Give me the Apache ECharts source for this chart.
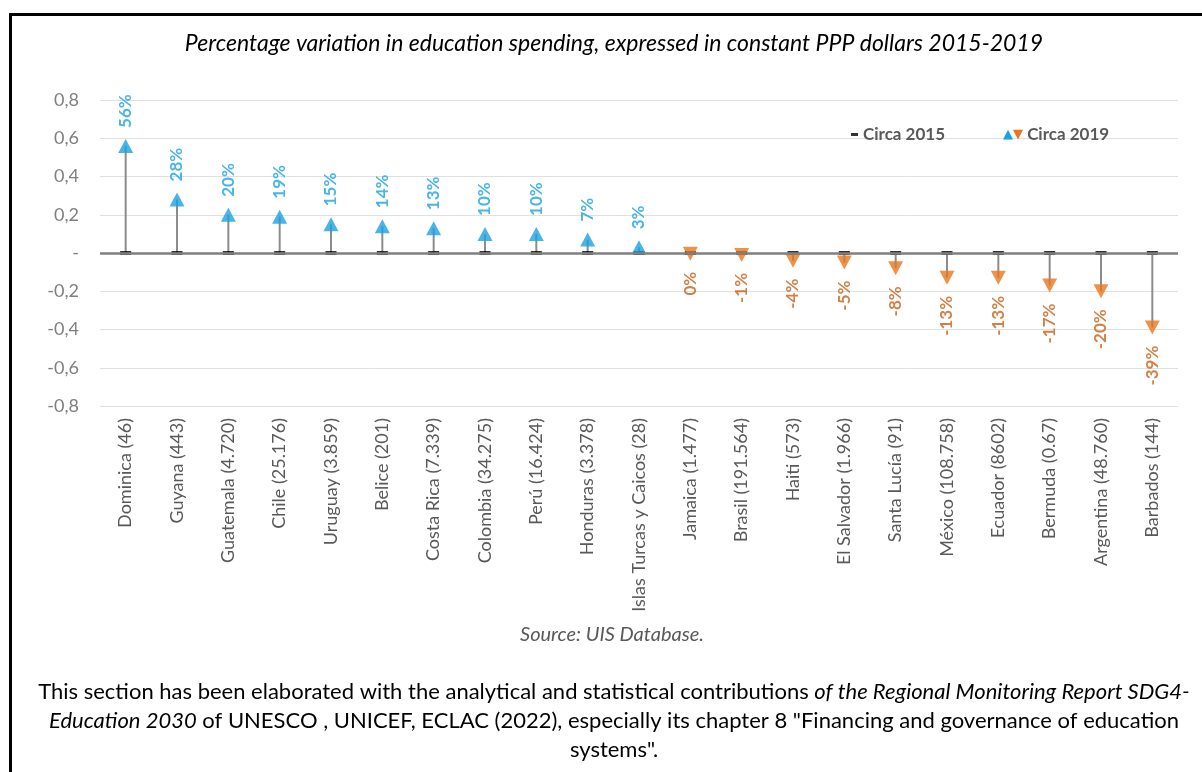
<!DOCTYPE html>
<html>
<head>
<meta charset="utf-8">
<script src="https://cdn.jsdelivr.net/npm/echarts@6/dist/echarts.min.js"></script>
<style>
  html, body { margin: 0; padding: 0; background: #fff; }
  #chart { width: 1202px; height: 772px; }
</style>
</head>
<body>
<div id="chart"></div>
<script>
// countries (population in thousands between brackets)
var countries = ['Dominica (46)', 'Guyana (443)', 'Guatemala (4.720)', 'Chile (25.176)', 'Uruguay (3.859)',
  'Belice (201)', 'Costa Rica (7.339)', 'Colombia (34.275)', 'Perú (16.424)', 'Honduras (3.378)',
  'Islas Turcas y Caicos (28)', 'Jamaica (1.477)', 'Brasil (191.564)', 'Haiti (573)', 'El Salvador (1.966)',
  'Santa Lucía (91)', 'México (108.758)', 'Ecuador (8602)', 'Bermuda (0.67)', 'Argentina (48.760)', 'Barbados (144)'];
var circa2015 = [0, 0, 0, 0, 0, 0, 0, 0, 0, 0, 0, 0, 0, 0, 0, 0, 0, 0, 0, 0, 0];
var circa2019 = [0.56, 0.28, 0.20, 0.19, 0.15, 0.14, 0.13, 0.10, 0.10, 0.07, 0.03,
  -0.004, -0.01, -0.04, -0.05, -0.08, -0.13, -0.13, -0.17, -0.20, -0.39];

var blue = '#1ba1e2', orange = '#e8771e', orangeText = '#c5611a';
var font = 'Lato, "Liberation Sans", sans-serif';

var myChart = echarts.init(document.getElementById('chart'));

var points2019 = [];
for (var i = 0; i < circa2019.length; i++) {
  var v = circa2019[i];
  var up = v >= 0;
  points2019.push({
    value: v,
    symbolRotate: up ? 0 : 180,
    itemStyle: { color: up ? blue : orange },
    label: {
      position: up ? 'top' : 'bottom',
      align: up ? 'left' : 'right',
      color: up ? blue : orangeText
    }
  });
}

var option = {
  animation: false,
  textStyle: { fontFamily: font },
  title: [{
    text: 'Percentage variation in education spending, expressed in constant PPP dollars 2015-2019',
    left: 614, top: 32, textAlign: 'center', padding: 0,
    textStyle: { fontStyle: 'italic', fontWeight: 'normal', fontSize: 23, color: '#000', fontFamily: font }
  }, {
    text: 'Source: UIS Database.',
    left: 612, top: 625, textAlign: 'center', padding: 0,
    textStyle: { fontStyle: 'italic', fontWeight: 'normal', fontSize: 20, color: '#595959', fontFamily: font }
  }, {
    text: 'This section has been elaborated with the analytical and statistical contributions {i|of the Regional Monitoring Report SDG4-}\n' +
      '{i|Education 2030} of UNESCO , UNICEF, ECLAC (2022), especially its chapter 8 "Financing and governance of education\n' +
      'systems".',
    left: 614, top: 677, textAlign: 'center', padding: 0,
    textStyle: {
      fontWeight: 'normal', fontSize: 22, color: '#000', lineHeight: 29, fontFamily: font,
      rich: { i: { fontStyle: 'italic', fontSize: 22, color: '#000', lineHeight: 29, fontFamily: font } }
    }
  }],
  graphic: [{
    type: 'rect',
    shape: { x: 10.5, y: 14.5, width: 1300, height: 900 },
    style: { fill: 'none', stroke: '#000', lineWidth: 3 },
    silent: true
  }],
  legend: [{
    data: [{ name: 'Circa 2015', icon: 'rect', itemStyle: { color: '#000' } }],
    left: 846, top: 121, itemWidth: 7, itemHeight: 3, itemGap: 4,
    textStyle: { color: '#595959', fontSize: 17, fontWeight: 'bold', fontFamily: font }
  }, {
    data: [{ name: 'Circa 2019', icon: 'none' }],
    left: 992, top: 121, itemWidth: 1, itemHeight: 9,
    formatter: '{b|▲}{o|▼} Circa 2019',
    textStyle: {
      color: '#595959', fontSize: 17, fontWeight: 'bold', fontFamily: font,
      rich: {
        b: { color: blue, fontSize: 13, fontFamily: 'DejaVu Sans' },
        o: { color: orange, fontSize: 13, fontFamily: 'DejaVu Sans' }
      }
    }
  }],
  grid: { left: 100, right: 24, top: 100, bottom: 366 },
  xAxis: {
    type: 'category',
    data: countries,
    axisLine: { show: false },
    axisTick: { show: false },
    axisLabel: { rotate: 90, margin: 12, color: '#595959', fontSize: 18, fontFamily: font, interval: 0 }
  },
  yAxis: {
    type: 'value',
    min: -0.8, max: 0.8, interval: 0.2,
    axisLine: { show: false },
    axisTick: { show: false },
    axisLabel: {
      margin: 21, color: '#7f7f7f', fontSize: 18, fontFamily: font,
      formatter: function (val) {
        if (Math.abs(val) < 1e-9) return '-';
        return val.toFixed(1).replace('.', ',');
      }
    },
    splitLine: { lineStyle: { color: '#e0e0e0', width: 1 } }
  },
  series: [{
    name: 'drop',
    type: 'bar',
    data: circa2019,
    barWidth: 2,
    itemStyle: { color: '#8c8c8c' },
    silent: true,
    z: 1,
    markLine: {
      silent: true,
      symbol: 'none',
      label: { show: false },
      lineStyle: { color: '#7f7f7f', width: 2.5, type: 'solid' },
      data: [{ yAxis: 0 }]
    }
  }, {
    name: 'Circa 2015',
    type: 'scatter',
    data: circa2015,
    symbol: 'rect',
    symbolSize: [11, 4],
    itemStyle: { color: '#000' },
    z: 3
  }, {
    name: 'Circa 2019',
    type: 'scatter',
    data: points2019,
    symbol: 'triangle',
    symbolSize: [15, 14],
    z: 4,
    label: {
      show: true,
      rotate: 90,
      distance: 11,
      verticalAlign: 'middle',
      fontSize: 17,
      fontWeight: 'bold',
      fontFamily: font,
      formatter: function (p) {
        var n = Math.round(p.value * 100);
        if (n === 0) n = 0;
        return n + '%';
      }
    }
  }]
};
myChart.setOption(option);
</script>
</body>
</html>
